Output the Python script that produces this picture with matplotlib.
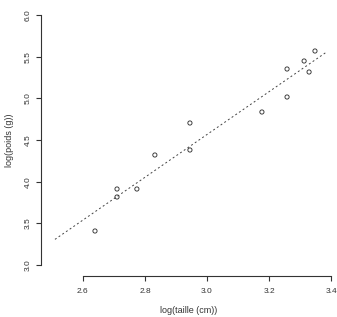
import matplotlib
matplotlib.use("Agg")
import matplotlib.pyplot as plt
import numpy as np

plt.rcParams['font.family'] = ['Liberation Sans', 'DejaVu Sans']

# data
log_taille = [2.639, 2.710, 2.710, 2.774, 2.832, 2.945, 2.945, 3.177, 3.258, 3.258, 3.313, 3.329, 3.348]
log_poids = [3.408, 3.816, 3.912, 3.912, 4.320, 4.380, 4.704, 4.836, 5.016, 5.352, 5.448, 5.316, 5.568]

# fitted line
fit_slope = 2.568
fit_intercept = -3.138
fit_range = [2.51, 3.387]

xticks = [2.6, 2.8, 3.0, 3.2, 3.4]
yticks = [3.0, 3.5, 4.0, 4.5, 5.0, 5.5, 6.0]

fig = plt.figure(figsize=(3.37, 3.17), dpi=100)
ax = fig.add_axes([41/337, 41/317, 296/337, 271/317])

ax.scatter(log_taille, log_poids, s=9, facecolors='none', edgecolors='#333333', linewidths=0.65, zorder=3)
lx = np.array(fit_range)
ax.plot(lx, fit_intercept + fit_slope * lx, linestyle=(0, (2.0, 2.6)), color='#444444', linewidth=0.7)

ax.set_xlim(2.465, 3.419)
ax.set_ylim(2.868, 6.12)

for s in ['top', 'right']:
    ax.spines[s].set_visible(False)
ax.spines['left'].set_bounds(3.0, 6.0)
ax.spines['bottom'].set_bounds(2.6, 3.4)
for s in ['left', 'bottom']:
    ax.spines[s].set_linewidth(0.8)
    ax.spines[s].set_color('#333333')

ax.set_xticks(xticks)
ax.set_xticklabels([f"{v:.1f}" for v in xticks])
ax.set_yticks(yticks)
ax.set_yticklabels([f"{v:.1f}" for v in yticks], rotation=90, va='center')
ax.tick_params(axis='both', direction='out', length=3.6, width=0.8, labelsize=6, colors='#333333')
ax.tick_params(axis='x', pad=5)
ax.tick_params(axis='y', pad=3)

ax.set_xlabel("log(taille (cm))", fontsize=6.5, color='#333333', labelpad=8)
ax.set_ylabel("log(poids (g))", fontsize=6.5, color='#333333', labelpad=8)

fig.savefig("out.png", dpi=100)
